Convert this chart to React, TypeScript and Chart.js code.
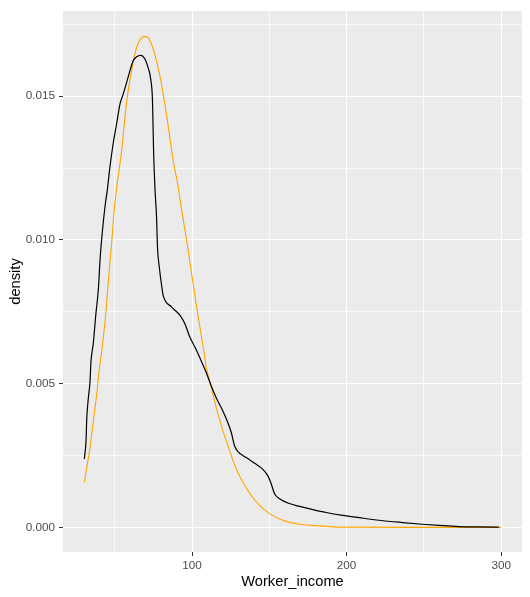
import React, { useEffect, useRef } from "react";
import { Chart, registerables } from "chart.js";

Chart.register(...registerables);

// Kernel density of Worker_income (black)
const densityX = [30.3, 31.4, 31.9, 32.9, 34.0, 34.6, 36.1, 37.7, 39.4, 40.5, 41.9, 43.7, 45.2, 46.9, 49.0, 51.2, 53.4, 55.5, 57.7, 59.8, 61.9, 64.1, 66.9, 69.5, 71.2, 73.4, 74.4, 75.1, 76.0, 77.0, 77.7, 78.7, 80.6, 81.3, 86.7, 92.1, 95.3, 98.5, 102.8, 106.1, 109.3, 112.5, 115.7, 120.0, 123.2, 125.4, 127.5, 129.7, 135.1, 140.5, 144.8, 149.0, 151.2, 153.4, 156.6, 163.0, 169.5, 178.1, 186.7, 197.4, 208.2, 221.1, 236.2, 249.0, 259.8, 272.7, 285.0, 298.5];
const densityY = [0.00238, 0.00301, 0.00381, 0.0045, 0.00508, 0.00577, 0.0064, 0.00738, 0.0083, 0.00933, 0.01025, 0.01117, 0.01175, 0.01255, 0.01336, 0.01404, 0.01473, 0.01508, 0.01548, 0.01588, 0.01623, 0.01637, 0.01642, 0.01629, 0.01605, 0.01554, 0.01485, 0.01312, 0.0118, 0.01083, 0.00968, 0.0091, 0.0083, 0.00807, 0.00767, 0.00738, 0.00709, 0.00663, 0.00617, 0.00577, 0.00537, 0.00491, 0.0045, 0.00404, 0.00364, 0.0033, 0.00284, 0.00264, 0.00243, 0.00223, 0.00207, 0.0018, 0.00152, 0.00117, 0.001, 0.00083, 0.00073, 0.00062, 0.00052, 0.00042, 0.00034, 0.00025, 0.00017, 0.00011, 0.00007, 0.00003, 0.00002, 0.00001];

// Fitted curve (orange)
const fitX = [30.3, 31.9, 34.0, 36.1, 38.3, 39.8, 41.5, 44.1, 45.8, 48.0, 49.7, 51.2, 54.5, 56.6, 58.7, 61.3, 64.1, 67.4, 69.5, 70.6, 73.8, 77.0, 79.8, 82.4, 85.0, 87.7, 91.0, 93.2, 96.4, 99.6, 102.8, 107.7, 109.3, 112.5, 115.7, 120.0, 124.3, 128.6, 132.9, 138.3, 143.7, 150.1, 158.7, 169.5, 180.3, 191.0, 200.0, 250.0, 300.0];
const fitY = [0.00157, 0.00209, 0.00278, 0.0037, 0.00462, 0.00542, 0.00611, 0.00738, 0.00853, 0.00991, 0.01106, 0.0118, 0.01312, 0.01428, 0.01519, 0.016, 0.01669, 0.01703, 0.01707, 0.01707, 0.0168, 0.01623, 0.01554, 0.01473, 0.01381, 0.01278, 0.01185, 0.01106, 0.01002, 0.00887, 0.00772, 0.00611, 0.00554, 0.00485, 0.00416, 0.00336, 0.00267, 0.00203, 0.00157, 0.00111, 0.00077, 0.00048, 0.00025, 0.00011, 0.00006, 0.00002, 0.00001, 0.0, 0.0];

const xTicks = [50, 100, 150, 200, 250, 300];
const xMajor = [100, 200, 300];
const yTicks = [0, 0.0025, 0.005, 0.0075, 0.01, 0.0125, 0.015, 0.0175];
const yMajor = [0, 0.005, 0.01, 0.015];

const X_MIN = 16.5;
const X_MAX = 313.5;
const Y_MIN = -0.000855;
const Y_MAX = 0.01796;

const isMaj = (list: number[], v: number) => list.some((m) => Math.abs(m - v) < 1e-9);

const panelBg = {
  id: "panelBg",
  beforeDraw(chart: any) {
    const { ctx, chartArea } = chart;
    ctx.save();
    ctx.fillStyle = "#EBEBEB";
    ctx.fillRect(chartArea.left, chartArea.top, chartArea.right - chartArea.left, chartArea.bottom - chartArea.top);
    ctx.restore();
  },
};

export default function App() {
  const ref = useRef<HTMLCanvasElement | null>(null);

  useEffect(() => {
    document.body.style.margin = "0";
    const canvas = ref.current!;
    const font = "'Liberation Sans', Arial, sans-serif";
    const chart = new Chart(canvas, {
      type: "line",
      data: {
        datasets: [
          {
            label: "density",
            data: densityX.map((x, i) => ({ x, y: densityY[i] })),
            borderColor: "#000000",
            borderWidth: 1.2,
            pointRadius: 0,
            fill: false,
            cubicInterpolationMode: "monotone",
          },
          {
            label: "fit",
            data: fitX.map((x, i) => ({ x, y: fitY[i] })),
            borderColor: "#FFA500",
            borderWidth: 1.1,
            pointRadius: 0,
            fill: false,
            cubicInterpolationMode: "monotone",
          },
        ],
      },
      options: {
        animation: false,
        responsive: false,
        maintainAspectRatio: false,
        layout: { padding: { top: 7, right: 8, left: 0, bottom: 0 } },
        plugins: { legend: { display: false }, tooltip: { enabled: false } },
        scales: {
          x: {
            type: "linear",
            min: X_MIN,
            max: X_MAX,
            afterBuildTicks: (s: any) => {
              s.ticks = xTicks.map((v) => ({ value: v }));
            },
            afterFit: (s: any) => {
              s.height = 45;
            },
            border: { display: false },
            grid: {
              color: (c: any) => (isMaj(xMajor, c.tick?.value) ? "#FFFFFF" : "rgba(255,255,255,0.75)"),
              lineWidth: 1,
              tickColor: (c: any) => (isMaj(xMajor, c.tick?.value) ? "#333333" : "rgba(0,0,0,0)"),
              tickLength: 4,
              drawTicks: true,
            },
            ticks: {
              autoSkip: false,
              maxRotation: 0,
              padding: 3,
              color: "#4D4D4D",
              font: { family: font, size: 11.7 },
              callback: (v: any) => (isMaj(xMajor, Number(v)) ? String(v) : ""),
            },
            title: {
              display: true,
              text: "Worker_income",
              color: "#000000",
              font: { family: font, size: 14.7 },
              padding: { top: 0, bottom: 6 },
            },
          },
          y: {
            type: "linear",
            min: Y_MIN,
            max: Y_MAX,
            afterBuildTicks: (s: any) => {
              s.ticks = yTicks.map((v) => ({ value: v }));
            },
            afterFit: (s: any) => {
              s.width = 63;
            },
            border: { display: false },
            grid: {
              color: (c: any) => (isMaj(yMajor, c.tick?.value) ? "#FFFFFF" : "rgba(255,255,255,0.75)"),
              lineWidth: 1,
              tickColor: (c: any) => (isMaj(yMajor, c.tick?.value) ? "#333333" : "rgba(0,0,0,0)"),
              tickLength: 4,
              drawTicks: true,
            },
            ticks: {
              autoSkip: false,
              padding: 4,
              color: "#4D4D4D",
              font: { family: font, size: 11.7 },
              callback: (v: any) => (isMaj(yMajor, Number(v)) ? Number(v).toFixed(3) : ""),
            },
            title: {
              display: true,
              text: "density",
              color: "#000000",
              font: { family: font, size: 14.7 },
              padding: { top: 7, bottom: 0 },
            },
          },
        },
      } as any,
      plugins: [panelBg],
    });
    return () => chart.destroy();
  }, []);

  return (
    <div style={{ width: 530, height: 597 }}>
      <canvas ref={ref} width={530} height={597} style={{ display: "block", width: 530, height: 597 }} />
    </div>
  );
}
